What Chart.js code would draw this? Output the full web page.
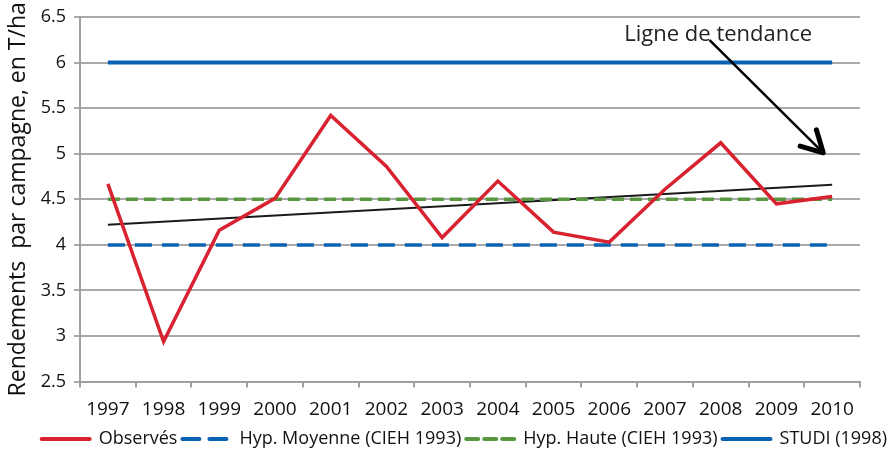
<!DOCTYPE html>
<html>
<head>
<meta charset="utf-8">
<script src="https://cdn.jsdelivr.net/npm/chart.js@4"></script>
<style>
  html, body { margin: 0; padding: 0; background: #fff; }
  #wrap { width: 892px; height: 458px; position: relative; }
</style>
</head>
<body>
<div id="wrap"><canvas id="c"></canvas></div>
<script>
const years = ['1997','1998','1999','2000','2001','2002','2003','2004','2005','2006','2007','2008','2009','2010'];
const observes = [4.67, 2.94, 4.16, 4.51, 5.42, 4.86, 4.08, 4.70, 4.14, 4.03, 4.61, 5.12, 4.45, 4.53];
const hypMoyenne = [4, 4, 4, 4, 4, 4, 4, 4, 4, 4, 4, 4, 4, 4];
const hypHaute = [4.5, 4.5, 4.5, 4.5, 4.5, 4.5, 4.5, 4.5, 4.5, 4.5, 4.5, 4.5, 4.5, 4.5];
const studi = [6, 6, 6, 6, 6, 6, 6, 6, 6, 6, 6, 6, 6, 6];
const tendance = [4.22, null, null, null, null, null, null, null, null, null, null, null, null, 4.66];
const seriesLabels = ['Observés', 'Hyp. Moyenne (CIEH 1993)', 'Hyp. Haute (CIEH 1993)', 'STUDI (1998)'];
const yTitle = 'Rendements  par campagne, en T/ha';
const noteText = 'Ligne de tendance';
// annotation anchor in data units (category index, value)
const noteAt = [9.27, 6.30];
const arrowFrom = [10.81, 6.24];
const arrowTo = [12.84, 5.01];

const sans = '"Open Sans", "Noto Sans", sans-serif';

const annot = {
  id: 'annot',
  afterDatasetsDraw(chart) {
    const {ctx, scales: {x, y}} = chart;
    ctx.save();
    ctx.font = '22px ' + sans;
    ctx.fillStyle = '#222';
    ctx.textBaseline = 'middle';
    ctx.fillText(noteText, x.getPixelForValue(noteAt[0]), y.getPixelForValue(noteAt[1]));
    const x1 = x.getPixelForValue(arrowFrom[0]), y1 = y.getPixelForValue(arrowFrom[1]);
    const x2 = x.getPixelForValue(arrowTo[0]), y2 = y.getPixelForValue(arrowTo[1]);
    ctx.strokeStyle = '#000';
    ctx.lineWidth = 2.5;
    ctx.lineCap = 'round';
    ctx.beginPath(); ctx.moveTo(x1, y1); ctx.lineTo(x2, y2); ctx.stroke();
    const ang = Math.atan2(y2 - y1, x2 - x1);
    const hl = 24;
    ctx.lineWidth = 5;
    ctx.lineJoin = 'round';
    ctx.beginPath();
    ctx.moveTo(x2 + hl * Math.cos(ang + Math.PI - 0.5), y2 + hl * Math.sin(ang + Math.PI - 0.5));
    ctx.lineTo(x2, y2);
    ctx.lineTo(x2 + hl * Math.cos(ang + Math.PI + 0.5), y2 + hl * Math.sin(ang + Math.PI + 0.5));
    ctx.stroke();
    ctx.restore();
  }
};

const mk = (label, data, color, width, dash) => ({
  label, data, borderColor: color, backgroundColor: color, borderWidth: width,
  borderDash: dash, pointRadius: 0, pointHoverRadius: 0, tension: 0, fill: false,
  borderCapStyle: 'butt'
});

new Chart(document.getElementById('c'), {
  type: 'line',
  data: {
    labels: years,
    datasets: [
      mk(seriesLabels[0], observes, '#d9222f', 3.5, []),
      mk(seriesLabels[1], hypMoyenne, '#0a62b3', 3.5, [17, 10]),
      mk(seriesLabels[2], hypHaute, '#58973f', 3.5, [12, 6]),
      mk(seriesLabels[3], studi, '#0a62b3', 4, []),
      Object.assign(mk('Tendance', tendance, '#1a1a1a', 2, []), {spanGaps: true})
    ]
  },
  options: {
    responsive: true,
    maintainAspectRatio: false,
    animation: false,
    events: [],
    layout: { padding: { left: 0, right: 0, top: 14, bottom: 0 } },
    plugins: {
      tooltip: { enabled: false },
      legend: {
        position: 'bottom',
        align: 'end',
        labels: {
          filter: (item) => item.datasetIndex < 4,
          usePointStyle: true,
          pointStyle: 'line',
          pointStyleWidth: 48,
          boxHeight: 18,
          padding: 5,
          color: '#111',
          font: { family: sans, size: 18 },
          generateLabels(chart) {
            const items = Chart.defaults.plugins.legend.labels.generateLabels(chart);
            items.forEach(it => {
              const ds = chart.data.datasets[it.datasetIndex];
              it.pointStyle = 'line';
              it.lineWidth = 4;
              it.lineCap = 'round';
              it.strokeStyle = ds.borderColor;
              it.lineDash = ds.borderDash;
            });
            return items;
          }
        }
      }
    },
    scales: {
      x: {
        offset: true,
        afterFit(s) { s.height = 43.4; },
        grid: { display: true, drawOnChartArea: false, offset: true, tickLength: 6, color: '#a0a0a0', lineWidth: 2 },
        border: { display: true, color: '#a0a0a0', width: 2 },
        ticks: { color: '#111', font: { family: sans, size: 19 }, padding: 11, maxRotation: 0, autoSkip: false }
      },
      y: {
        min: 2.5, max: 6.5,
        afterFit(s) { s.width = 80; },
        title: { display: true, text: yTitle, color: '#111', font: { family: sans, size: 23 }, padding: { top: 5, bottom: 0 } },
        grid: { color: '#a9a9a9', lineWidth: 2, tickLength: 6 },
        border: { display: true, color: '#a0a0a0', width: 2 },
        ticks: { stepSize: 0.5, color: '#111', font: { family: sans, size: 18, lineHeight: 1 }, padding: 8,
                 callback: (v) => String(v) }
      },
      yRight: {
        position: 'right',
        afterFit(s) { s.width = 32; },
        ticks: { display: false },
        grid: { display: false },
        border: { display: false }
      }
    }
  },
  plugins: [annot]
});
</script>
</body>
</html>
